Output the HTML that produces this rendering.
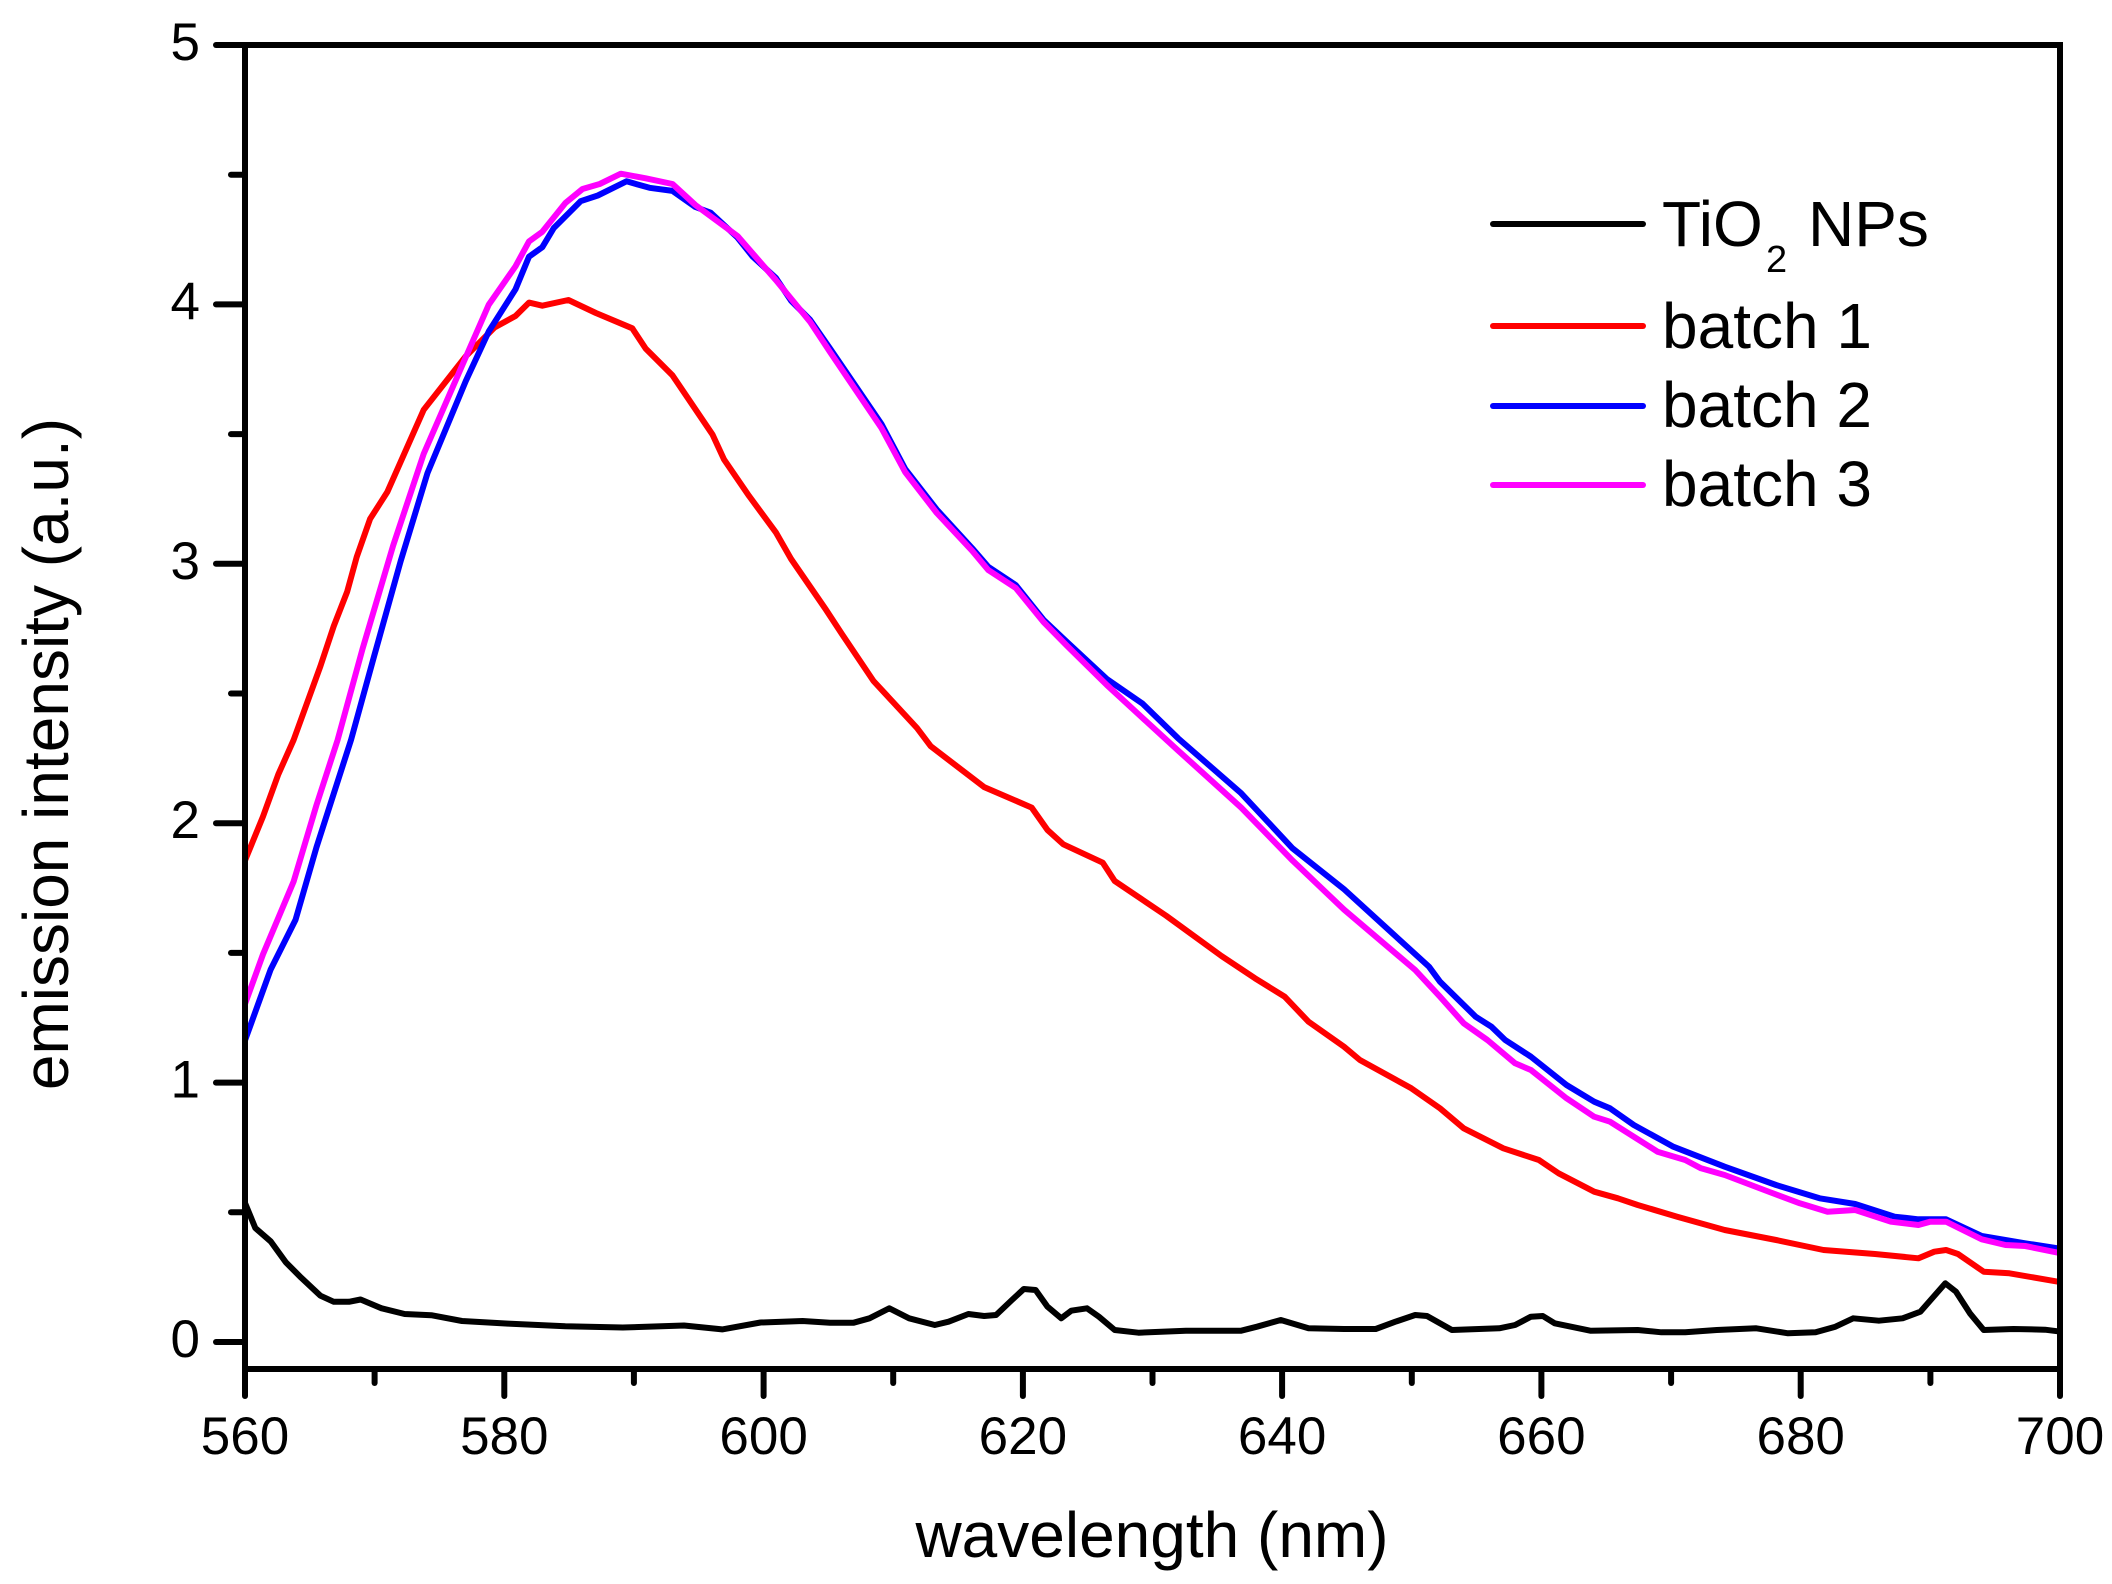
<!DOCTYPE html>
<html>
<head>
<meta charset="utf-8">
<style>
  html, body { margin:0; padding:0; background:#fff; }
  body { width:2112px; height:1584px; overflow:hidden; }
  svg { display:block; }
  text { font-family: "Liberation Sans", Arial, sans-serif; fill:#000; }
</style>
</head>
<body>
<svg width="2112" height="1584" viewBox="0 0 2112 1584" xmlns="http://www.w3.org/2000/svg">
  <rect x="0" y="0" width="2112" height="1584" fill="#fff"/>

  <!-- Data series -->
  <g fill="none" stroke-width="6" stroke-linejoin="round" stroke-linecap="butt">
    <!-- TiO2 NPs (black) -->
    <polyline stroke="#000" points="
      245,1203 255.3,1228 270.6,1241.3 285.9,1262.4 301.2,1277.7 320.4,1295.7 333.8,1301.8 349,1301.8 360.6,1299.5
      381.6,1308.3 404.6,1314 431.3,1315.2 462,1321 507.9,1323.6 565.3,1326.3 622.7,1327.5 684,1325.5 722.2,1329.4
      760.5,1322.5 802.6,1321 830,1322.7 853.7,1322.7 869.5,1318.3 889.3,1308.3 909.1,1318.3 934.8,1325 948.6,1321.7
      968.4,1314 984.2,1316 996.1,1315 1011.9,1300 1023.8,1289 1035.6,1290 1047.5,1306.7 1061.3,1318.3 1071.2,1310.7
      1087,1308.3 1098.9,1316.7 1114.7,1330 1138.4,1332.7 1185.9,1330.7 1241.2,1330.7 1257,1326.7 1280.8,1320
      1308.5,1328.3 1344,1329 1375.7,1329 1395.4,1321.7 1415.2,1315 1427,1316 1451.9,1330 1499.3,1328.3 1515.1,1325
      1530.9,1316.7 1542.8,1316 1554.7,1323.3 1590.3,1330.7 1637.7,1330 1661.4,1332.3 1685.2,1332.3 1716.8,1330
      1756.3,1328.3 1788,1333.3 1815.6,1332.3 1835.4,1326.7 1853.2,1318.3 1878.9,1320.7 1902.6,1318.3 1920.4,1311.7
      1945.3,1283.3 1956,1291.7 1969.9,1313.3 1983.7,1330 2013.4,1329 2045,1329.7 2058,1331.3"/>
    <!-- batch 1 (red) -->
    <polyline stroke="#ff0000" points="
      245,860.5 263,816.5 278.3,774.4 293.6,740 320.4,666.2 333.8,626 347.2,591.6 356.7,557 370.1,518.9 387.3,492
      423.7,409.8 465.8,356.2 494.5,327.5 515.5,316 529,302.6 542.3,305.7 568.4,300 595.9,313 632.3,328.3 645.7,348.6
      672.5,375.4 712.6,434.7 724.1,459.6 749,495.9 775.8,532.3 791.1,559 825.5,609 841.9,634 873.5,681 917,728
      930.8,746.3 984.2,787.1 1031.7,807.6 1047.5,830 1063.3,844.3 1102.8,862.7 1114.7,881 1166.1,915.7 1221.5,956
      1255,978.3 1284.7,996.7 1308.5,1021.7 1344,1046.7 1359.9,1060 1411.3,1088.3 1440,1108.3 1463.7,1128.3
      1503.3,1148.3 1538.9,1160 1558.6,1173.3 1594.2,1191.7 1617.9,1198.3 1637.7,1205 1677.2,1216.7 1724.7,1230
      1776.1,1240 1823.5,1250 1875,1254 1918.4,1258.3 1934.3,1251.7 1946.1,1250 1958,1254 1983.7,1271.7
      2009.4,1273.3 2058,1281.7"/>
    <!-- batch 2 (blue) -->
    <polyline stroke="#0000ff" points="
      245,1040.4 270.6,969.6 295.5,919.9 316.5,847.2 351,740 374,656.6 400.7,561 427.5,473 465.8,381 488.8,331.4
      515.5,289.3 529,256.7 542.3,247.2 553.8,228 580.6,201.2 597.8,195.5 626.5,181.3 649.5,187.8 672.5,190.9
      695.4,207 710.7,212.7 737.5,237.6 752.8,256.7 775.8,277.8 791.1,300.7 810.2,319.9 830,348.4 881.4,423.9
      905.1,468.8 936.8,509.6 972.3,548.4 988.2,566.7 1015.8,585.1 1043.5,619.8 1067.2,642.2 1106.8,679
      1142.4,703.5 1178,738.2 1241.2,793.3 1292.6,848.4 1344,889.2 1429,966.7 1440,981.7 1475.6,1016.7
      1491.4,1026.7 1505.2,1040 1530.9,1056.7 1566.5,1085 1594.2,1101.7 1610,1108.3 1633.8,1125 1673.3,1146.7
      1724.7,1166.7 1776.1,1185 1819.6,1198.3 1855.2,1204 1894.7,1216.7 1918.4,1219.3 1946.1,1219.3 1981.7,1236
      2025.2,1243.3 2058,1248.3"/>
    <!-- batch 3 (magenta) -->
    <polyline stroke="#ff00ff" points="
      245,1004 263,954.3 293.6,881.6 316.5,805 337.6,740 362.5,649 393.1,545.7 423.7,453.8 462,365.8 488.8,304.6
      515.5,266.3 529,241.4 542.3,231.8 565.3,203.1 582.5,189 599.7,184 620.8,173.7 645.7,178.3 672.5,184
      695.4,205 737.5,236 775.8,280 810.2,322 830,352 881.4,428 905.1,472 936.8,513 972.3,551 988.2,570
      1015.8,588 1043.5,622 1067.2,646 1106.8,685 1142.4,717.8 1178,750.4 1241.2,807.6 1292.6,860.6 1344,909.6
      1415.2,970 1440,996.7 1463.7,1023.3 1487.4,1040 1515.1,1063.3 1530.9,1070 1566.5,1098.3 1594.2,1116.7
      1610,1121.7 1657.5,1151.7 1685.2,1160 1701,1168.3 1724.7,1175 1764.2,1190 1799.8,1203.3 1827.5,1211.7
      1855.2,1210 1890.8,1221.7 1918.4,1225 1930.3,1221.7 1946.1,1221.7 1981.7,1239.3 2005.4,1245 2025.2,1246
      2058,1252.7"/>
  </g>

  <!-- Frame -->
  <rect x="245" y="45" width="1815" height="1324" fill="none" stroke="#000" stroke-width="6"/>

  <!-- Y ticks (outward, left) -->
  <g stroke="#000" stroke-width="6" stroke-linecap="round">
    <line x1="216" y1="45" x2="245" y2="45"/>
    <line x1="216" y1="304.4" x2="245" y2="304.4"/>
    <line x1="216" y1="563.8" x2="245" y2="563.8"/>
    <line x1="216" y1="823.2" x2="245" y2="823.2"/>
    <line x1="216" y1="1082.6" x2="245" y2="1082.6"/>
    <line x1="216" y1="1342" x2="245" y2="1342"/>
    <line x1="231" y1="174.7" x2="245" y2="174.7"/>
    <line x1="231" y1="434.1" x2="245" y2="434.1"/>
    <line x1="231" y1="693.5" x2="245" y2="693.5"/>
    <line x1="231" y1="952.9" x2="245" y2="952.9"/>
    <line x1="231" y1="1212.3" x2="245" y2="1212.3"/>
  </g>

  <!-- X ticks (outward, down) -->
  <g stroke="#000" stroke-width="6" stroke-linecap="round">
    <line x1="245" y1="1369" x2="245" y2="1396"/>
    <line x1="504.3" y1="1369" x2="504.3" y2="1396"/>
    <line x1="763.6" y1="1369" x2="763.6" y2="1396"/>
    <line x1="1022.9" y1="1369" x2="1022.9" y2="1396"/>
    <line x1="1282.1" y1="1369" x2="1282.1" y2="1396"/>
    <line x1="1541.4" y1="1369" x2="1541.4" y2="1396"/>
    <line x1="1800.7" y1="1369" x2="1800.7" y2="1396"/>
    <line x1="2060" y1="1369" x2="2060" y2="1396"/>
    <line x1="374.6" y1="1369" x2="374.6" y2="1383"/>
    <line x1="633.9" y1="1369" x2="633.9" y2="1383"/>
    <line x1="893.2" y1="1369" x2="893.2" y2="1383"/>
    <line x1="1152.5" y1="1369" x2="1152.5" y2="1383"/>
    <line x1="1411.8" y1="1369" x2="1411.8" y2="1383"/>
    <line x1="1671.1" y1="1369" x2="1671.1" y2="1383"/>
    <line x1="1930.4" y1="1369" x2="1930.4" y2="1383"/>
  </g>

  <!-- Y tick labels -->
  <g font-size="53" text-anchor="end">
    <text x="200" y="60">5</text>
    <text x="200" y="319.4">4</text>
    <text x="200" y="578.8">3</text>
    <text x="200" y="838.2">2</text>
    <text x="200" y="1097.6">1</text>
    <text x="200" y="1357">0</text>
  </g>

  <!-- X tick labels -->
  <g font-size="53" text-anchor="middle">
    <text x="245" y="1454">560</text>
    <text x="504.3" y="1454">580</text>
    <text x="763.6" y="1454">600</text>
    <text x="1022.9" y="1454">620</text>
    <text x="1282.1" y="1454">640</text>
    <text x="1541.4" y="1454">660</text>
    <text x="1800.7" y="1454">680</text>
    <text x="2060" y="1454">700</text>
  </g>

  <!-- Axis titles -->
  <text x="1152" y="1557" font-size="64" text-anchor="middle">wavelength (nm)</text>
  <text transform="translate(68,754) rotate(-90)" x="0" y="0" font-size="64" text-anchor="middle">emission intensity (a.u.)</text>

  <!-- Legend -->
  <g stroke-width="6" stroke-linecap="round">
    <line x1="1493" y1="224" x2="1643" y2="224" stroke="#000"/>
    <line x1="1493" y1="326" x2="1643" y2="326" stroke="#ff0000"/>
    <line x1="1493" y1="406" x2="1643" y2="406" stroke="#0000ff"/>
    <line x1="1493" y1="485" x2="1643" y2="485" stroke="#ff00ff"/>
  </g>
  <g font-size="64">
    <text x="1662" y="246">TiO</text>
    <text x="1766" y="272" font-size="38">2</text>
    <text x="1808" y="246">NPs</text>
    <text x="1662" y="348">batch 1</text>
    <text x="1662" y="427">batch 2</text>
    <text x="1662" y="506">batch 3</text>
  </g>
</svg>
</body>
</html>
